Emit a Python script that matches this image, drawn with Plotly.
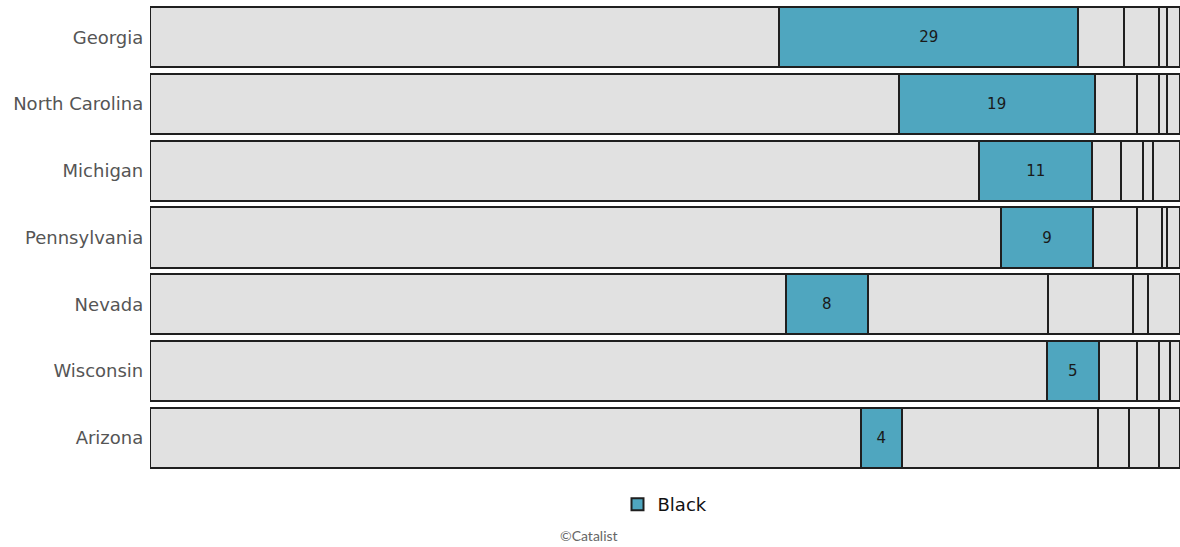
import plotly.graph_objects as go

# Share of the 2020 electorate by race, battleground states (percent)
states = ["Georgia", "North Carolina", "Michigan", "Pennsylvania", "Nevada", "Wisconsin", "Arizona"]
white = [61.1, 72.7, 80.5, 82.6, 61.7, 87.1, 69.0]
black = [29, 19, 11, 9, 8, 5, 4]
latino = [4.5, 4.1, 2.8, 4.2, 17.5, 3.7, 19.0]
asian = [3.4, 2.2, 2.1, 2.5, 8.2, 2.2, 3.0]
native = [0.7, 0.7, 1.0, 0.4, 1.5, 1.0, 3.0]
other = [1.3, 1.3, 2.6, 1.3, 3.1, 1.0, 2.0]

GRAY = "#e1e1e1"
TEAL = "#4fa6bf"
EDGE = "#1f1f1f"

segments = [
    ("White", white, GRAY, False, False),
    ("Black", black, TEAL, True, True),
    ("Latino", latino, GRAY, False, False),
    ("Asian", asian, GRAY, False, False),
    ("Native American", native, GRAY, False, False),
    ("Other", other, GRAY, False, False),
]

fig = go.Figure()
for name, vals, color, show, labelled in segments:
    fig.add_trace(go.Bar(
        y=states,
        x=vals,
        name=name,
        orientation="h",
        marker=dict(color=color, line=dict(color=EDGE, width=2)),
        showlegend=show,
        text=[str(v) for v in vals] if labelled else None,
        textposition="inside" if labelled else "none",
        insidetextanchor="middle",
        textangle=0,
        textfont=dict(family="Verdana, DejaVu Sans, sans-serif", size=15, color="#1a1a1a"),
        hoverinfo="name+x",
    ))

fig.update_layout(
    barmode="stack",
    bargap=0.1,
    width=1180,
    height=547,
    margin=dict(l=150, r=0, t=4, b=76),
    plot_bgcolor="white",
    paper_bgcolor="white",
    font=dict(family="Verdana, DejaVu Sans, sans-serif"),
    xaxis=dict(range=[0, 100], showgrid=False, zeroline=False, showticklabels=False,
               ticks="", showline=False),
    yaxis=dict(categoryorder="array", categoryarray=states, autorange="reversed",
               showgrid=False, zeroline=False, ticks="", ticklen=0,
               tickfont=dict(size=18, color="#555555"), ticksuffix=" "),
    legend=dict(orientation="h", x=0.5, xanchor="center", y=-0.032, yanchor="top",
                font=dict(size=18, color="#111111"), itemwidth=30),
    annotations=[dict(
        text="©Catalist", xref="paper", yref="paper",
        x=(589 - 150) / 1030, y=-0.139, xanchor="center", yanchor="middle",
        showarrow=False, font=dict(family="Lato, Open Sans, sans-serif", size=14, color="#666666"),
    )],
)

fig.write_html("out.html")
